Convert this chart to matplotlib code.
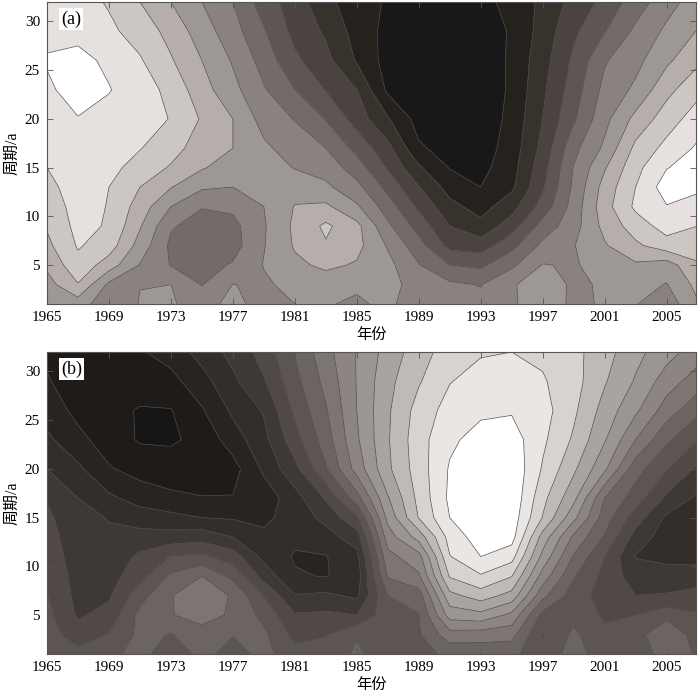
import numpy as np
import matplotlib
matplotlib.use('Agg')
import matplotlib.pyplot as plt

plt.rcParams['font.family'] = ['Liberation Serif', 'Noto Sans CJK SC']

years = np.arange(1965, 2009, 2)
periods = [1, 3, 5, 7, 9, 11, 13, 15, 17, 20, 23, 26, 29, 32]
xticks = list(range(1965, 2006, 4))
yticks = [5, 10, 15, 20, 25, 30]

# one row per year, band number at each period
za = [
    [7.2, 7.6, 8.2, 8.75, 9.1, 9.4, 9.7, 10.0, 10.2, 10.5, 10.8, 11.1, 10.7, 10.4],
    [7.5, 8.95, 9.7, 10.1, 10.3, 10.4, 10.5, 10.6, 10.7, 10.95, 11.5, 11.3, 10.7, 10.4],
    [6.3, 6.8, 8.5, 9.5, 9.9, 9.95, 10.0, 10.3, 10.5, 10.7, 11.05, 10.8, 10.2, 9.9],
    [7.05, 6.98, 6.95, 7.6, 8.1, 8.55, 9.0, 9.6, 10.05, 10.5, 10.5, 10.1, 9.6, 9.0],
    [7.1, 7.0, 5.95, 5.8, 6.1, 7.0, 8.05, 8.9, 9.4, 9.95, 9.7, 9.1, 8.65, 8.0],
    [6.6, 5.95, 5.6, 5.5, 5.6, 6.05, 7.15, 8.1, 8.5, 8.9, 8.4, 8.0, 7.5, 7.0],
    [7.3, 7.02, 6.1, 5.6, 5.7, 6.2, 7.0, 7.5, 8.0, 8.0, 7.3, 6.9, 6.4, 6.0],
    [6.6, 6.85, 7.05, 6.95, 6.9, 7.0, 7.3, 7.5, 7.2, 6.6, 6.1, 5.6, 5.1, 4.5],
    [7.0, 7.3, 7.8, 8.1, 8.2, 8.05, 7.6, 6.95, 6.5, 5.95, 5.0, 4.2, 3.7, 3.5],
    [7.1, 7.5, 8.2, 8.9, 9.2, 8.2, 7.2, 6.6, 6.0, 4.95, 3.95, 3.3, 2.85, 2.3],
    [6.8, 7.2, 7.9, 8.3, 8.3, 7.15, 6.3, 5.5, 4.7, 3.55, 3.0, 1.9, 1.6, 1.4],
    [7.3, 7.5, 7.3, 6.9, 6.2, 5.5, 4.7, 3.9, 3.3, 2.1, 0.8, 0.6, 0.7, 0.9],
    [6.2, 6.4, 6.05, 5.4, 4.6, 3.8, 3.05, 2.15, 1.15, 0.6, 0.4, 0.3, 0.4, 0.5],
    [6.9, 6.2, 5.0, 3.7, 3.0, 2.3, 1.6, 0.95, 0.6, 0.3, 0.2, 0.15, 0.2, 0.3],
    [6.3, 5.95, 4.8, 3.5, 2.3, 1.6, 1.0, 0.7, 0.5, 0.3, 0.2, 0.2, 0.5, 0.9],
    [6.85, 6.9, 5.8, 4.7, 3.5, 2.6, 1.8, 1.6, 1.45, 1.3, 1.2, 1.2, 1.1, 1.1],
    [7.6, 7.5, 7.05, 6.25, 5.4, 4.4, 3.85, 3.6, 3.3, 3.0, 2.8, 2.6, 2.4, 2.3],
    [6.8, 6.85, 6.9, 6.95, 6.6, 6.4, 6.2, 6.05, 5.7, 4.85, 4.5, 4.2, 3.8, 3.3],
    [7.1, 7.1, 7.4, 7.9, 8.3, 8.6, 8.4, 7.9, 7.2, 6.7, 6.3, 5.9, 4.95, 4.3],
    [7.05, 7.4, 7.85, 8.8, 9.5, 10.2, 10.0, 9.7, 9.25, 8.3, 7.2, 6.7, 6.2, 5.5],
    [6.4, 6.95, 7.5, 9.6, 10.4, 10.95, 11.5, 10.95, 10.3, 9.5, 8.7, 7.8, 7.2, 6.6],
    [7.9, 8.3, 8.9, 9.4, 10.0, 10.7, 11.15, 11.5, 11.15, 10.5, 9.7, 8.8, 8.05, 7.5],
]
zb = [
    [6.7, 6.45, 6.3, 6.05, 5.85, 5.6, 5.4, 5.2, 4.9, 4.0, 3.2, 2.6, 2.1, 1.8],
    [6.3, 5.5, 4.85, 4.7, 4.6, 4.5, 4.4, 4.3, 4.0, 3.2, 2.3, 1.7, 1.4, 1.3],
    [6.7, 6.05, 5.35, 4.85, 4.6, 4.35, 4.15, 3.95, 3.2, 2.1, 1.5, 1.2, 1.1, 1.1],
    [7.4, 7.25, 7.3, 6.6, 5.6, 5.2, 4.4, 3.5, 2.6, 1.6, 0.9, 0.95, 1.3, 1.9],
    [6.3, 6.95, 7.95, 7.95, 7.2, 6.05, 4.4, 3.3, 2.2, 1.5, 0.85, 0.95, 1.7, 2.4],
    [7.3, 7.6, 8.4, 8.6, 8.0, 6.2, 4.6, 3.0, 2.05, 1.4, 1.3, 1.9, 2.6, 3.4],
    [6.6, 7.05, 7.85, 7.9, 6.7, 5.5, 4.0, 2.9, 2.05, 1.6, 2.5, 3.2, 3.8, 4.3],
    [7.3, 7.2, 6.7, 5.95, 4.6, 3.7, 3.2, 2.8, 2.4, 3.2, 3.7, 4.1, 4.9, 5.4],
    [6.4, 5.7, 5.1, 4.05, 3.1, 2.9, 3.2, 3.4, 3.6, 4.7, 5.6, 6.2, 6.7, 7.05],
    [6.3, 5.95, 5.2, 4.2, 2.95, 2.95, 3.6, 4.3, 5.1, 6.9, 7.5, 7.9, 8.3, 8.65],
    [7.2, 6.9, 5.0, 3.8, 3.4, 3.7, 4.5, 5.8, 7.6, 9.4, 9.85, 10.0, 10.05, 10.05],
    [6.4, 6.5, 6.7, 7.0, 8.1, 8.7, 9.5, 10.3, 10.9, 11.8, 11.9, 11.85, 11.7, 11.4],
    [6.7, 6.9, 6.95, 7.5, 8.85, 9.6, 11.4, 13.05, 13.3, 13.5, 13.6, 13.4, 12.9, 12.55],
    [7.2, 8.6, 10.45, 11.7, 13.1, 13.95, 14.4, 15.0, 15.2, 15.1, 14.8, 14.4, 13.95, 13.5],
    [7.3, 8.5, 10.7, 12.5, 13.9, 15.0, 15.5, 15.7, 15.8, 15.8, 15.4, 14.8, 14.4, 13.9],
    [7.3, 8.35, 9.75, 11.65, 13.05, 14.4, 15.4, 15.6, 15.8, 15.8, 15.5, 14.9, 14.4, 14.0],
    [6.2, 5.95, 6.7, 8.3, 9.6, 10.7, 11.6, 12.95, 13.3, 13.9, 14.2, 14.4, 14.1, 13.8],
    [7.5, 7.2, 6.7, 6.5, 7.1, 7.9, 8.8, 10.3, 11.3, 12.2, 12.85, 13.2, 13.4, 13.3],
    [6.4, 6.2, 5.85, 5.6, 5.7, 6.0, 6.9, 7.5, 8.0, 10.2, 11.1, 11.6, 12.1, 12.4],
    [6.3, 6.5, 6.0, 5.0, 4.5, 3.95, 4.6, 5.5, 6.5, 7.4, 9.0, 10.2, 10.9, 11.3],
    [7.5, 8.02, 6.6, 5.1, 4.3, 3.8, 3.5, 3.8, 4.8, 6.1, 7.2, 8.5, 9.5, 10.4],
    [6.9, 6.4, 6.1, 5.4, 4.4, 3.7, 3.3, 3.4, 3.8, 4.8, 6.0, 7.3, 8.5, 9.5],
]

cols_a = ['#181818', '#25221e', '#38322d', '#4a433f', '#5e5652', '#736b67',
          '#8a827e', '#9e9894', '#b5aeaa', '#ccc7c3', '#e6e1df', '#ffffff']
cols_b = ['#161616', '#1e1b18', '#282420', '#332e2a', '#3f3935', '#504945',
          '#5c5552', '#6c6461', '#7c7572', '#8c8582', '#9c9693', '#aaa4a0',
          '#c0bab6', '#d8d3d0', '#e9e6e3', '#ffffff']


def draw_panel(fig, top, bottom, z, cols, tag):
    W, H = 700.0, 696.0
    ax = fig.add_axes([47 / W, 1 - bottom / H, 649 / W, (bottom - top) / H])
    z = np.array(z).T
    levels = np.arange(len(cols) + 1)
    ax.contourf(years, periods, z, levels=levels, colors=cols)
    ax.contour(years, periods, z, levels=levels[1:-1], colors='#4d4d4d', linewidths=0.5)
    ax.set_xlim(1965, 2006.9)
    ax.set_ylim(1, 32)
    ax.set_xticks(xticks)
    ax.set_yticks(yticks)
    ax.tick_params(direction='in', top=True, right=True, length=4, width=0.6,
                   color='#555555', labelsize=11, pad=5)
    for s in ax.spines.values():
        s.set_linewidth(0.8)
        s.set_color('#555555')
    ax.set_xlabel('年份', fontsize=11, labelpad=3)
    ax.set_ylabel('周期/a', fontsize=11.5, labelpad=3)
    ax.text(0.0215, 0.943, tag, transform=ax.transAxes, fontsize=13, va='center',
            bbox=dict(facecolor='white', edgecolor='none', pad=1.5))
    return ax


fig = plt.figure(figsize=(7, 6.96), dpi=100)
draw_panel(fig, 2, 304, za, cols_a, '(a)')
draw_panel(fig, 352, 654, zb, cols_b, '(b)')
fig.savefig('out.png', dpi=100)
